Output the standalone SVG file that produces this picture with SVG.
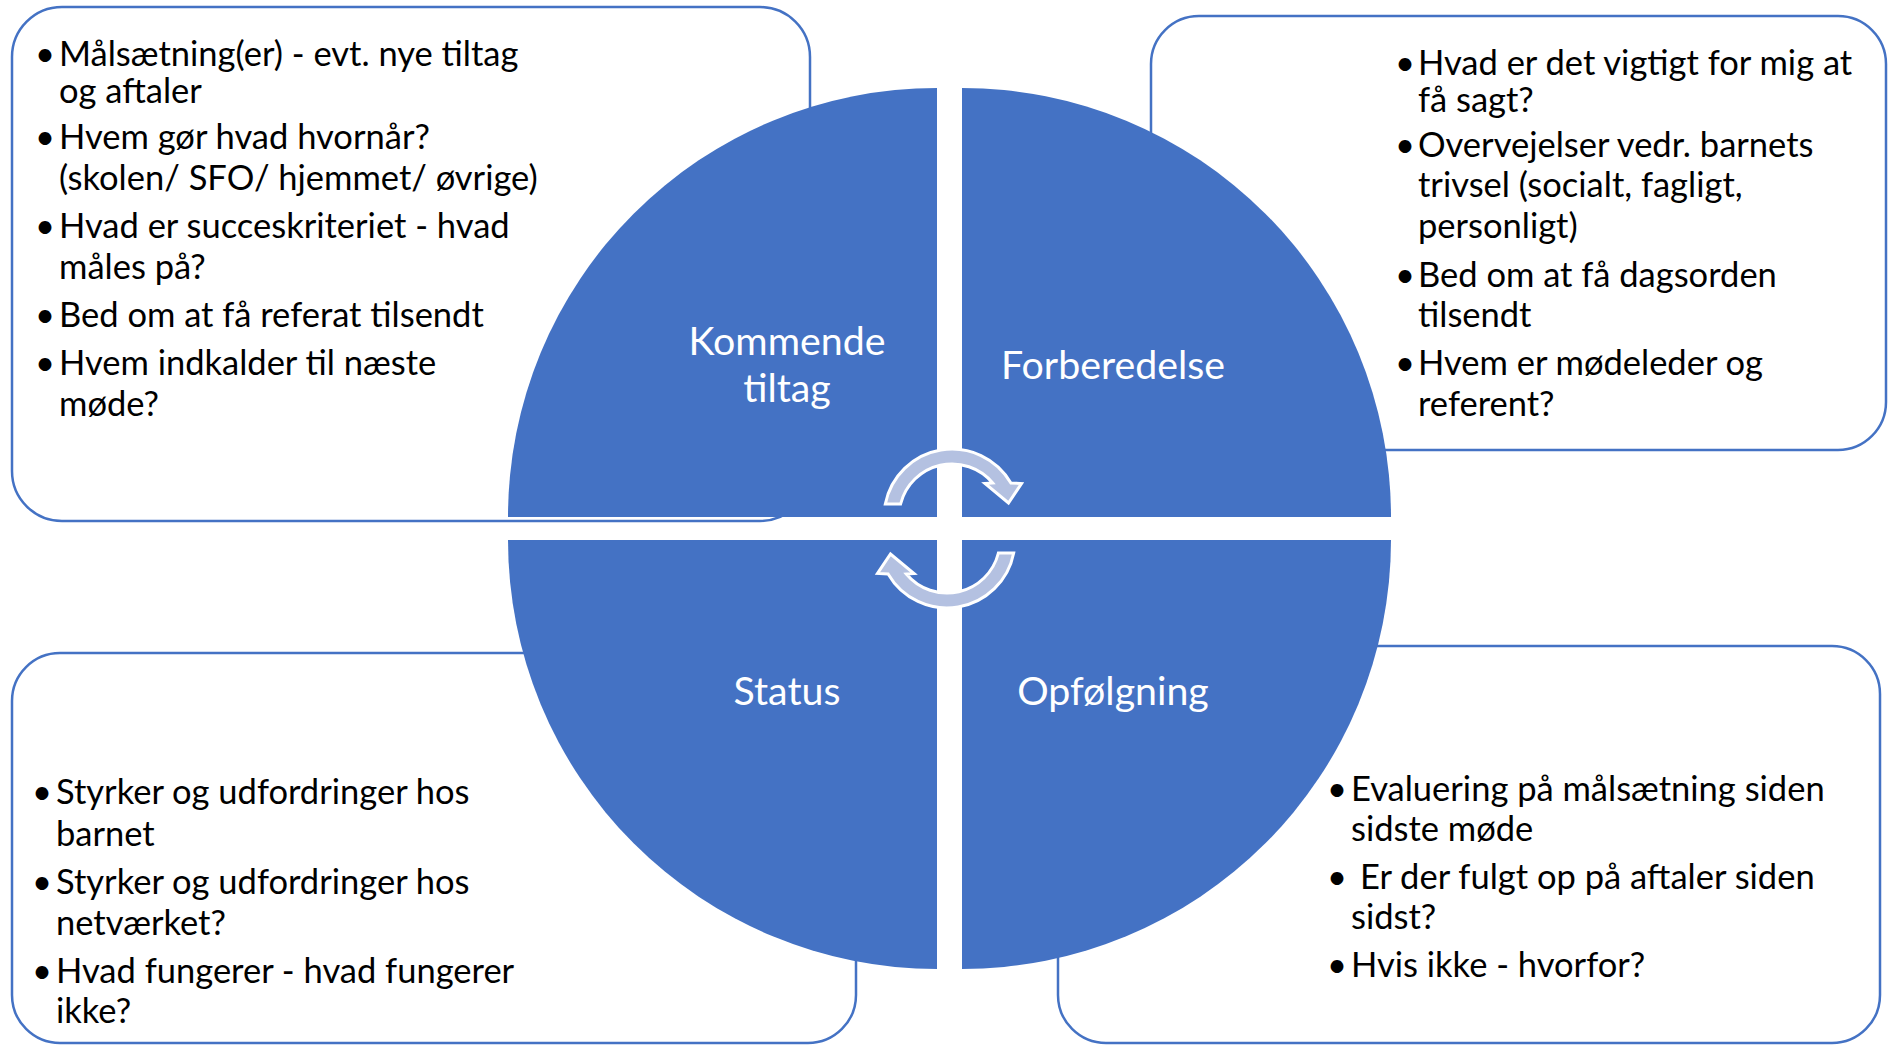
<svg xmlns="http://www.w3.org/2000/svg" width="1890" height="1046" viewBox="0 0 1890 1046">
<style>
.box{fill:#fff;stroke:#4472C4;stroke-width:2.5}
.quad{fill:#4472C4}
.arr{fill:#B4C1E1;stroke:#fff;stroke-width:3;stroke-linejoin:miter}
.t{font-family:Lato,"Liberation Sans",sans-serif;font-size:34.5px;fill:#000}
.lb{font-family:Lato,"Liberation Sans",sans-serif;font-size:39.3px;fill:#fff;text-anchor:middle}
.bu{text-anchor:middle}
</style>
<rect width="1890" height="1046" fill="#fff"/>
<g id="box-kommende"><rect class="box" x="12" y="7" width="798" height="514" rx="50"/></g>
<g id="box-forberedelse"><rect class="box" x="1151" y="16" width="735" height="434" rx="48"/></g>
<g id="box-status"><rect class="box" x="12" y="653" width="844" height="390" rx="48"/></g>
<g id="box-opfolgning"><rect class="box" x="1058" y="646" width="822" height="397" rx="48"/></g>

<g id="quad-kommende"><path class="quad" d="M937 517 L508 517 A429 429 0 0 1 937 88 Z"/>
<text class="lb" x="787" y="355">Kommende</text><text class="lb" x="787" y="402">tiltag</text></g>
<g id="quad-forberedelse"><path class="quad" d="M962 517 L962 88 A429 429 0 0 1 1391 517 Z"/>
<text class="lb" x="1113" y="379">Forberedelse</text></g>
<g id="quad-opfolgning"><path class="quad" d="M962 540 L1391 540 A429 429 0 0 1 962 969 Z"/>
<text class="lb" x="1113" y="705">Opfølgning</text></g>
<g id="quad-status"><path class="quad" d="M937 540 L937 969 A429 429 0 0 1 508 540 Z"/>
<text class="lb" x="787" y="705">Status</text></g>

<g id="connectors">
<path class="arr" d="M885.3 504 A68 68 0 0 1 1010.9 483 L1021.5 483.5 L1008.5 503 L985 483.5 L992.7 483 A53 53 0 0 0 900.6 504 Z"/>
<path class="arr" transform="rotate(180 949.5 528.5)" d="M885.3 504 A68 68 0 0 1 1010.9 483 L1021.5 483.5 L1008.5 503 L985 483.5 L992.7 483 A53 53 0 0 0 900.6 504 Z"/>
</g>

<g id="text-kommende" class="t">
<text class="bu" x="45" y="66">•</text><text x="59" y="66">Målsætning(er) - evt. nye tiltag</text>
<text x="59" y="103">og aftaler</text>
<text class="bu" x="45" y="149">•</text><text x="59" y="149">Hvem gør hvad hvornår?</text>
<text x="59" y="190">(skolen/ SFO/ hjemmet/ øvrige)</text>
<text class="bu" x="45" y="238">•</text><text x="59" y="238">Hvad er succeskriteriet - hvad</text>
<text x="59" y="279">måles på?</text>
<text class="bu" x="45" y="327">•</text><text x="59" y="327">Bed om at få referat tilsendt</text>
<text class="bu" x="45" y="375">•</text><text x="59" y="375">Hvem indkalder til næste</text>
<text x="59" y="416">møde?</text>
</g>
<g id="text-forberedelse" class="t">
<text class="bu" x="1405" y="75">•</text><text x="1418" y="75">Hvad er det vigtigt for mig at</text>
<text x="1418" y="112">få sagt?</text>
<text class="bu" x="1405" y="157">•</text><text x="1418" y="157">Overvejelser vedr. barnets</text>
<text x="1418" y="197">trivsel (socialt, fagligt,</text>
<text x="1418" y="238">personligt)</text>
<text class="bu" x="1405" y="287">•</text><text x="1418" y="287">Bed om at få dagsorden</text>
<text x="1418" y="327">tilsendt</text>
<text class="bu" x="1405" y="375">•</text><text x="1418" y="375">Hvem er mødeleder og</text>
<text x="1418" y="416">referent?</text>
</g>
<g id="text-status" class="t">
<text class="bu" x="42" y="804">•</text><text x="56" y="804">Styrker og udfordringer hos</text>
<text x="56" y="846">barnet</text>
<text class="bu" x="42" y="894">•</text><text x="56" y="894">Styrker og udfordringer hos</text>
<text x="56" y="935">netværket?</text>
<text class="bu" x="42" y="983">•</text><text x="56" y="983">Hvad fungerer - hvad fungerer</text>
<text x="56" y="1023">ikke?</text>
</g>
<g id="text-opfolgning" class="t">
<text class="bu" x="1337" y="801">•</text><text x="1351" y="801">Evaluering på målsætning siden</text>
<text x="1351" y="841">sidste møde</text>
<text class="bu" x="1337" y="889">•</text><text x="1360" y="889">Er der fulgt op på aftaler siden</text>
<text x="1351" y="929">sidst?</text>
<text class="bu" x="1337" y="977">•</text><text x="1351" y="977">Hvis ikke - hvorfor?</text>
</g>
</svg>
